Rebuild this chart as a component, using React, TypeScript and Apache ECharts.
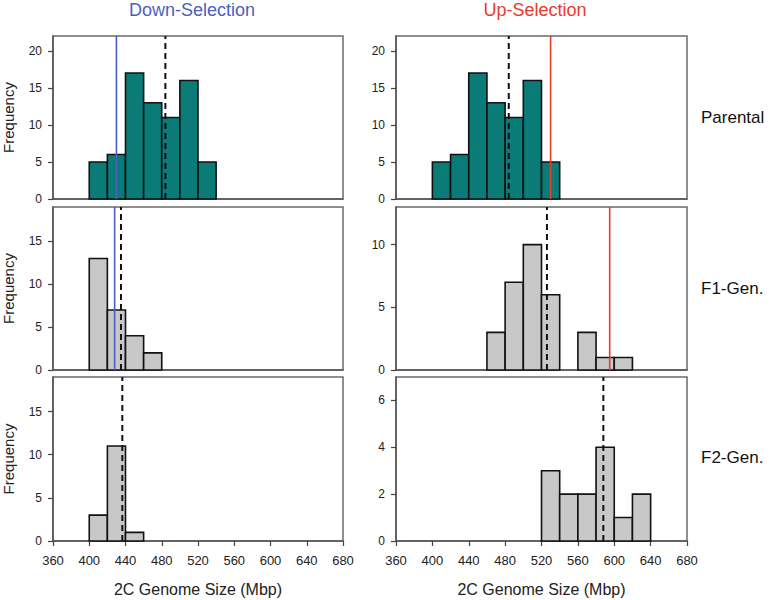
import React, { useEffect, useRef } from "react";
import * as echarts from "echarts";

// ---- data ----
const BIN_WIDTH = 20;
const xTicks = [360, 400, 440, 480, 520, 560, 600, 640, 680];

const parentalBinStarts = [400, 420, 440, 460, 480, 500, 520];
const parentalCounts = [5, 6, 17, 13, 11, 16, 5];

const downF1BinStarts = [400, 420, 440, 460];
const downF1Counts = [13, 7, 4, 2];

const upF1BinStarts = [460, 480, 500, 520, 560, 580, 600];
const upF1Counts = [3, 7, 10, 6, 3, 1, 1];

const downF2BinStarts = [400, 420, 440];
const downF2Counts = [3, 11, 1];

const upF2BinStarts = [520, 540, 560, 580, 600, 620];
const upF2Counts = [3, 2, 2, 4, 1, 2];

// means (dashed) and selection thresholds (solid)
const parentalMean = 484;
const downF1Mean = 435;
const downF2Mean = 436.5;
const upF1Mean = 526;
const upF2Mean = 588;
const downParentalCut = 430;
const downF1Cut = 428;
const upParentalCut = 530;
const upF1Cut = 595;

const yTicksTopLeft = [0, 5, 10, 15, 20];
const yTicksTopRight = [0, 5, 10, 15, 20];
const yTicksMidLeft = [0, 5, 10, 15];
const yTicksMidRight = [0, 5, 10];
const yTicksBotLeft = [0, 5, 10, 15];
const yTicksBotRight = [0, 2, 4, 6];

const columnTitles = ["Down-Selection", "Up-Selection"];
const rowLabels = ["Parental", "F1-Gen.", "F2-Gen."];

const TEAL = "#0b7b78";
const GREY = "#c8c8c8";
const BLUE = "#4a5fc0";
const RED = "#ea3a2c";

type Panel = {
  starts: number[];
  counts: number[];
  fill: string;
  yMax: number;
  yTicks: number[];
  mean: number;
  cut: number | null;
  cutColor: string;
  row: number;
  col: number;
};

const panels: Panel[] = [
  { starts: parentalBinStarts, counts: parentalCounts, fill: TEAL, yMax: 22, yTicks: yTicksTopLeft, mean: parentalMean, cut: downParentalCut, cutColor: BLUE, row: 0, col: 0 },
  { starts: parentalBinStarts, counts: parentalCounts, fill: TEAL, yMax: 22, yTicks: yTicksTopRight, mean: parentalMean, cut: upParentalCut, cutColor: RED, row: 0, col: 1 },
  { starts: downF1BinStarts, counts: downF1Counts, fill: GREY, yMax: 19, yTicks: yTicksMidLeft, mean: downF1Mean, cut: downF1Cut, cutColor: BLUE, row: 1, col: 0 },
  { starts: upF1BinStarts, counts: upF1Counts, fill: GREY, yMax: 13, yTicks: yTicksMidRight, mean: upF1Mean, cut: upF1Cut, cutColor: RED, row: 1, col: 1 },
  { starts: downF2BinStarts, counts: downF2Counts, fill: GREY, yMax: 19, yTicks: yTicksBotLeft, mean: downF2Mean, cut: null, cutColor: BLUE, row: 2, col: 0 },
  { starts: upF2BinStarts, counts: upF2Counts, fill: GREY, yMax: 7, yTicks: yTicksBotRight, mean: upF2Mean, cut: null, cutColor: RED, row: 2, col: 1 },
];

const GRID_LEFT = [53, 396];
const GRID_WIDTH = [290, 291];
const GRID_TOP = [36, 207, 377];
const GRID_HEIGHT = [163, 163, 164];

const FONT = "Liberation Sans, Arial, sans-serif";

export default function App() {
  const ref = useRef<HTMLDivElement>(null);

  useEffect(() => {
    document.body.style.margin = "0";
    if (!ref.current) return;
    const chart = echarts.init(ref.current, null, { renderer: "svg" });

    const grid: any[] = [];
    const xAxis: any[] = [];
    const yAxis: any[] = [];
    const series: any[] = [];

    panels.forEach((p, i) => {
      const isBottom = p.row === 2;
      grid.push({
        left: GRID_LEFT[p.col],
        top: GRID_TOP[p.row],
        width: GRID_WIDTH[p.col],
        height: GRID_HEIGHT[p.row],
        show: true,
        borderColor: "#6a6a6a",
        borderWidth: 1.5,
        containLabel: false,
      });
      xAxis.push({
        type: "value",
        gridIndex: i,
        min: 360,
        max: 680,
        interval: 40,
        splitLine: { show: false },
        axisLine: { show: true, onZero: false, lineStyle: { color: "#555", width: 1.5 } },
        axisTick: { show: isBottom, length: 5, lineStyle: { color: "#444", width: 1.2 }, customValues: xTicks },
        axisLabel: {
          show: isBottom,
          customValues: xTicks,
          margin: 13,
          fontSize: 13,
          fontFamily: FONT,
          color: "#222",
        },
        name: isBottom ? "2C Genome Size (Mbp)" : "",
        nameLocation: "middle",
        nameGap: 40,
        nameTextStyle: { fontSize: 16, fontFamily: FONT, color: "#222" },
      });
      yAxis.push({
        type: "value",
        gridIndex: i,
        min: 0,
        max: p.yMax,
        splitLine: { show: false },
        axisLine: { show: true, lineStyle: { color: "#555", width: 1.5 } },
        axisTick: { show: true, length: 5, lineStyle: { color: "#444", width: 1.2 }, customValues: p.yTicks },
        axisLabel: {
          customValues: p.yTicks,
          margin: 11,
          fontSize: 12,
          fontFamily: FONT,
          color: "#222",
        },
        name: p.col === 0 ? "Frequency" : "",
        nameLocation: "middle",
        nameGap: 37,
        nameTextStyle: { fontSize: 15, fontFamily: FONT, color: "#222" },
      });

      const data = p.starts.map((s, k) => [s, s + BIN_WIDTH, p.counts[k]]);
      series.push({
        type: "custom",
        xAxisIndex: i,
        yAxisIndex: i,
        data,
        encode: { x: [0, 1], y: 2 },
        renderItem: (params: any, api: any) => {
          const x0 = api.value(0);
          const x1 = api.value(1);
          const y = api.value(2);
          const a = api.coord([x0, 0]);
          const b = api.coord([x1, y]);
          return {
            type: "rect",
            shape: { x: a[0], y: b[1], width: b[0] - a[0], height: a[1] - b[1] },
            style: { fill: p.fill, stroke: "#111", lineWidth: 1.6 },
          };
        },
        z: 2,
      });
      if (p.cut !== null) {
        series.push({
          type: "line",
          xAxisIndex: i,
          yAxisIndex: i,
          data: [[p.cut, 0], [p.cut, p.yMax]],
          showSymbol: false,
          symbol: "none",
          lineStyle: { color: p.cutColor, width: 1.6 },
          z: 3,
        });
      }
      series.push({
        type: "line",
        xAxisIndex: i,
        yAxisIndex: i,
        data: [[p.mean, 0], [p.mean, p.yMax]],
        showSymbol: false,
        symbol: "none",
        lineStyle: { color: "#111", width: 2, type: [6, 4] },
        z: 4,
      });
    });

    const graphic: any[] = [
      {
        type: "text",
        x: 192,
        y: 10,
        style: { text: columnTitles[0], fontSize: 18, fontFamily: FONT, fill: BLUE, align: "center", verticalAlign: "middle" },
      },
      {
        type: "text",
        x: 535,
        y: 10,
        style: { text: columnTitles[1], fontSize: 18, fontFamily: FONT, fill: RED, align: "center", verticalAlign: "middle" },
      },
    ];
    const rowY = [117, 288, 457];
    rowLabels.forEach((t, r) => {
      graphic.push({
        type: "text",
        x: 701,
        y: rowY[r],
        style: { text: t, fontSize: 17, fontFamily: FONT, fill: "#111", align: "left", verticalAlign: "middle" },
      });
    });

    chart.setOption({
      animation: false,
      backgroundColor: "#fff",
      grid,
      xAxis,
      yAxis,
      series,
      graphic,
    });

    return () => chart.dispose();
  }, []);

  return <div ref={ref} style={{ width: 770, height: 600 }} />;
}
